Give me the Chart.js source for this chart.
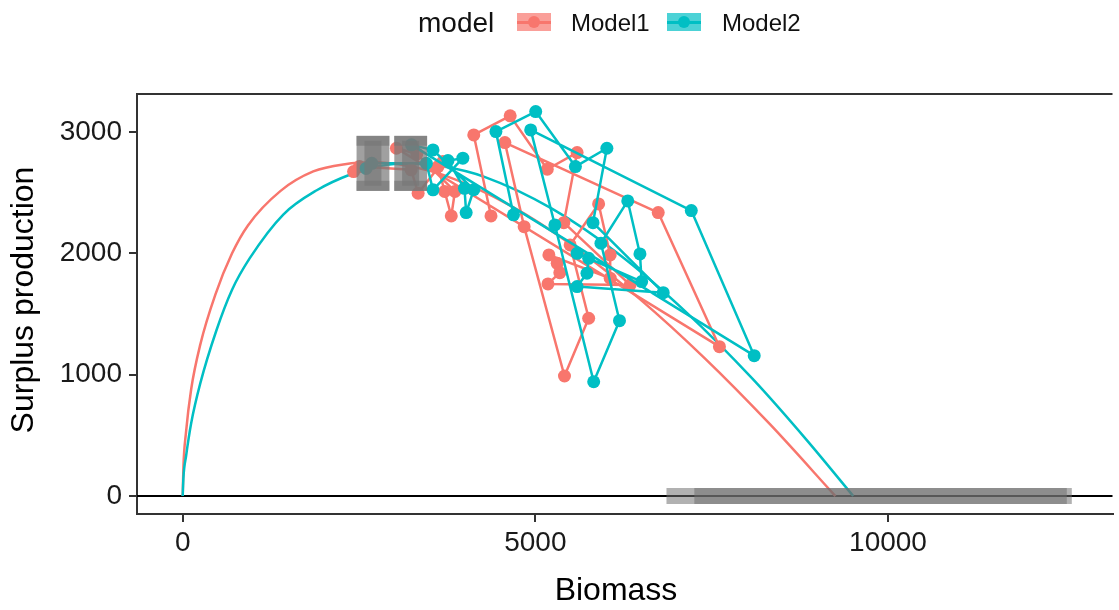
<!DOCTYPE html>
<html>
<head>
<meta charset="utf-8">
<script src="https://cdn.jsdelivr.net/npm/chart.js@4.4.1/dist/chart.umd.min.js"></script>
<style>
  html, body { margin: 0; padding: 0; background: #fff; }
  #wrap { position: relative; width: 1119px; height: 610px; overflow: hidden; font-family: "Liberation Sans", Arial, sans-serif; }
  #chart { position: absolute; left: 0; top: 0; }
  .lg { position: absolute; white-space: nowrap; color: #111; line-height: 1; }
  .key { position: absolute; width: 34px; height: 18px; }
  .key i { position: absolute; left: 0; right: 0; top: 7.5px; height: 3px; }
  .key b { position: absolute; left: 11px; top: 3px; width: 12px; height: 12px; border-radius: 50%; }
</style>
</head>
<body>
<div id="wrap">
  <canvas id="chart" width="1119" height="610"></canvas>
  <div class="lg" style="left:418px;top:9px;font-size:28px">model</div>
  <div class="key" style="left:517px;top:13px;background:rgba(248,118,109,0.7)"><i style="background:#F8766D"></i><b style="background:#F8766D"></b></div>
  <div class="lg" style="left:571px;top:11px;font-size:24px">Model1</div>
  <div class="key" style="left:667px;top:13px;background:rgba(0,191,196,0.7)"><i style="background:#00BFC4"></i><b style="background:#00BFC4"></b></div>
  <div class="lg" style="left:722px;top:11px;font-size:24px">Model2</div>
</div>
<script>
// ── axis ticks ───────────────────────────────────────────────
const xTicks = [0, 5000, 10000];
const yTicks = [0, 1000, 2000, 3000];

// ── fitted production curves (biomass, surplus production) ──
const curve1B  = [0, 10, 46, 120, 250, 463, 700, 925, 1388, 1851, 2300, 2702, 3200, 3702, 4627, 5552, 6478, 7403, 8329, 9254];
const curve1SP = [0, 240, 520, 880, 1250, 1660, 2000, 2230, 2515, 2675, 2735, 2750, 2720, 2645, 2400, 2055, 1625, 1135, 590, 0];
const curve2B  = [0, 10, 48, 120, 250, 475, 700, 951, 1426, 1901, 2377, 2800, 3215, 3700, 4278, 5229, 6180, 7130, 8081, 8842, 9507];
const curve2SP = [0, 150, 330, 600, 930, 1360, 1700, 1960, 2320, 2520, 2650, 2720, 2740, 2715, 2630, 2370, 1995, 1520, 965, 465, 0];

// ── yearly estimates, joined in sequence ────────────────────
const model1B  = [2423, 2505, 3239, 3338, 3690, 3620, 3714, 3808, 3860, 3320, 3030, 7610, 6742, 4568, 4841, 5413,
                  5756, 5493, 5897, 6061, 6061, 5192, 5310, 5347, 5179, 6343, 5404, 5592, 5169, 4643, 4127, 4371];
const model1SP = [2674, 2715, 2688, 2495, 2756, 2715, 2510, 2308, 2510, 2820, 2866, 1231, 2336, 2913, 2220, 989,
                  1465, 2069, 2407, 1987, 1795, 1987, 1918, 1841, 1748, 1740, 2253, 2830, 2693, 3133, 2976, 2308];
const model2B  = [2600, 2681, 3455, 3549, 3972, 3761, 3995, 4019, 4127, 3549, 3244, 8103, 7211, 4934, 5277, 5827,
                  6193, 5930, 6310, 6483, 6507, 5592, 5756, 5732, 5592, 6813, 5817, 6014, 5568, 5005, 4441, 4690];
const model2SP = [2700, 2742, 2742, 2523, 2784, 2764, 2536, 2336, 2524, 2852, 2894, 1157, 2352, 3017, 2234, 942,
                  1445, 2083, 2432, 1995, 1767, 2000, 1959, 1836, 1726, 1676, 2253, 2866, 2715, 3168, 3003, 2317];

// ── reference points with intervals (Model1, Model2) ────────
const bmsyMid = [2697, 3232];
const bmsyLo  = [2465, 3000];
const bmsyHi  = [2930, 3465];
const msyMid  = [2741, 2741];
const msyLo   = [2556, 2556];
const msyHi   = [2927, 2927];
const kLo     = [6859, 7254];
const kHi     = [12535, 12606];

const RED = '#F8766D';
const TEAL = '#00BFC4';
const BOX_GREY = 'rgba(120,120,120,0.7)';
const K_GREY = 'rgba(110,110,110,0.54)';
const FONT = '"Liberation Sans", Arial, sans-serif';

const xy = (xs, ys) => xs.map((x, i) => ({ x, y: ys[i] }));
const gap = { x: 0, y: null };

function curveSet(xs, ys, color, order) {
  return { data: xy(xs, ys), showLine: true, borderColor: color, borderWidth: 2.5,
           pointRadius: 0, cubicInterpolationMode: 'monotone', order };
}
function pathSet(xs, ys, color, order) {
  return { data: xy(xs, ys), showLine: true, borderColor: color, backgroundColor: color,
           borderWidth: 2.5, borderJoinStyle: 'round', pointRadius: 6.5, pointBorderWidth: 0,
           pointHoverRadius: 6.5, order };
}

const datasets = [
  curveSet(curve1B, curve1SP, RED, 9),
  curveSet(curve2B, curve2SP, TEAL, 8),
  pathSet(model1B, model1SP, RED, 7),
  pathSet(model2B, model2SP, TEAL, 6),
];

// Bmsy boxes: wide band + I-shaped interval on top
[0, 1].forEach(i => {
  datasets.push({
    data: [{ x: bmsyLo[i], y: msyMid[i] }, { x: bmsyHi[i], y: msyMid[i] }],
    showLine: true, borderColor: BOX_GREY, borderWidth: 55, pointRadius: 0, order: 3,
  });
  datasets.push({
    data: [{ x: bmsyLo[i], y: msyHi[i] }, { x: bmsyHi[i], y: msyHi[i] }, gap,
           { x: bmsyLo[i], y: msyLo[i] }, { x: bmsyHi[i], y: msyLo[i] }],
    showLine: true, spanGaps: false, borderColor: BOX_GREY, borderWidth: 10, pointRadius: 0, order: 2,
  });
  datasets.push({
    data: [{ x: bmsyMid[i], y: msyHi[i] }, { x: bmsyMid[i], y: msyLo[i] }],
    showLine: true, borderColor: BOX_GREY, borderWidth: 17, pointRadius: 0, order: 2,
  });
  // carrying capacity interval on the zero line
  datasets.push({
    data: [{ x: kLo[i], y: 0 }, { x: kHi[i], y: 0 }],
    showLine: true, borderColor: K_GREY, borderWidth: 16, pointRadius: 0, order: 1,
  });
});

// zero line, panel top edge and axis titles
const frame = {
  id: 'frame',
  beforeDatasetsDraw(chart) {
    const { ctx, chartArea: a, scales } = chart;
    const y0 = scales.y.getPixelForValue(0);
    ctx.save();
    ctx.strokeStyle = '#000';
    ctx.lineWidth = 2;
    ctx.beginPath();
    ctx.moveTo(a.left, y0);
    ctx.lineTo(a.right, y0);
    ctx.stroke();
    ctx.restore();
  },
  afterDraw(chart) {
    const { ctx, chartArea: a } = chart;
    ctx.save();
    ctx.strokeStyle = '#333';
    ctx.lineWidth = 2;
    ctx.beginPath();
    ctx.moveTo(a.left - 1, a.top);
    ctx.lineTo(a.right, a.top);
    ctx.stroke();

    ctx.fillStyle = '#000';
    ctx.font = '32px ' + FONT;
    ctx.textAlign = 'center';
    ctx.textBaseline = 'alphabetic';
    ctx.fillText('Biomass', 616, 600);
    ctx.translate(33, 300);
    ctx.rotate(-Math.PI / 2);
    ctx.fillText('Surplus production', 0, 0);
    ctx.restore();
  }
};

const tickFont = { family: FONT, size: 28 };

new Chart(document.getElementById('chart'), {
  type: 'scatter',
  data: { datasets },
  options: {
    responsive: false,
    animation: false,
    devicePixelRatio: 1,
    layout: { padding: { top: 94, right: 0, left: 0, bottom: 0 } },
    plugins: { legend: { display: false }, tooltip: { enabled: false } },
    events: [],
    scales: {
      x: {
        type: 'linear', min: -648, max: 13183,
        afterBuildTicks: s => { s.ticks = xTicks.map(v => ({ value: v })); },
        afterFit: s => { s.height = 96; },
        grid: { drawOnChartArea: false, drawTicks: true, tickLength: 8, color: '#333', lineWidth: 2 },
        border: { display: true, color: '#333', width: 2 },
        ticks: { font: tickFont, color: '#1a1a1a', padding: 4, maxRotation: 0, callback: v => String(v) },
      },
      y: {
        type: 'linear', min: -148, max: 3313,
        afterBuildTicks: s => { s.ticks = yTicks.map(v => ({ value: v })); },
        afterFit: s => { s.width = 137; },
        grid: { drawOnChartArea: false, drawTicks: true, tickLength: 8, color: '#333', lineWidth: 2 },
        border: { display: true, color: '#333', width: 2 },
        ticks: { font: tickFont, color: '#1a1a1a', padding: 7, callback: v => String(v) },
      }
    }
  },
  plugins: [frame]
});
</script>
</body>
</html>
